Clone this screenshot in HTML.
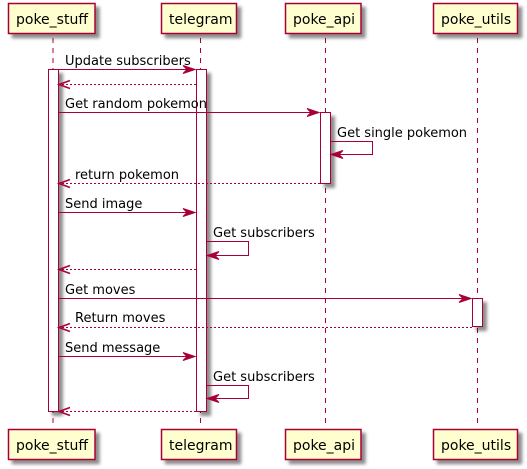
<!DOCTYPE html>
<html><head><meta charset="utf-8"><style>
html,body{margin:0;padding:0;background:#fff;}
svg{display:block;}
text{font-family:"DejaVu Sans","Liberation Sans",sans-serif;fill:#000;}
.p{font-size:14px;}
.m{font-size:13px;}
</style></head><body>
<svg width="527" height="469" viewBox="0 0 527 469" xmlns="http://www.w3.org/2000/svg">
<defs>
<filter id="sh" x="-20%" y="-20%" width="150%" height="150%">
<feGaussianBlur in="SourceAlpha" stdDeviation="1.5"/>
<feOffset dx="4" dy="4" result="o"/>
<feComponentTransfer><feFuncA type="linear" slope="0.45"/></feComponentTransfer>
<feMerge><feMergeNode/><feMergeNode in="SourceGraphic"/></feMerge>
</filter>
</defs>
<!-- lifelines -->
<g stroke="#A80036" stroke-width="1" stroke-dasharray="5,5">
<line x1="53" y1="38" x2="53" y2="425"/>
<line x1="200.5" y1="38" x2="200.5" y2="425"/>
<line x1="325.5" y1="38" x2="325.5" y2="425"/>
<line x1="477.5" y1="38" x2="477.5" y2="425"/>
</g>
<!-- participant boxes -->
<g fill="#FEFECE" stroke="#A80036" stroke-width="1.5" filter="url(#sh)">
<rect x="8.5" y="3.5" width="86.5" height="30"/>
<rect x="161.5" y="3.5" width="75" height="30"/>
<rect x="285.5" y="3.5" width="75.5" height="30"/>
<rect x="433.5" y="3.5" width="84" height="30"/>
<rect x="8.5" y="429.5" width="86.5" height="30"/>
<rect x="161.5" y="429.5" width="75" height="30"/>
<rect x="285.5" y="429.5" width="75.5" height="30"/>
<rect x="433.5" y="429.5" width="84" height="30"/>
</g>
<text class="p" x="16" y="24">poke_stuff</text>
<text class="p" x="169" y="24">telegram</text>
<text class="p" x="293" y="24">poke_api</text>
<text class="p" x="441" y="24">poke_utils</text>
<text class="p" x="16" y="450">poke_stuff</text>
<text class="p" x="169" y="450">telegram</text>
<text class="p" x="293" y="450">poke_api</text>
<text class="p" x="441" y="450">poke_utils</text>
<!-- activation bars -->
<g fill="#fff" stroke="#A80036" stroke-width="1" filter="url(#sh)">
<rect x="48.5" y="69.5" width="10" height="342"/>
<rect x="196.5" y="69.5" width="10" height="342"/>
<rect x="320.5" y="112.5" width="10" height="71"/>
<rect x="472.5" y="298.5" width="10" height="28"/>
</g>
<!-- messages -->
<g stroke="#A80036" stroke-width="1" fill="none">
<line x1="58" y1="69.5" x2="194" y2="69.5"/>
<line x1="196" y1="84.5" x2="60" y2="84.5" stroke-dasharray="2,2"/>
<line x1="58" y1="112.5" x2="318" y2="112.5"/>
<polyline points="330,141.5 372.5,141.5 372.5,154.5 332,154.5"/>
<line x1="320" y1="183.5" x2="60" y2="183.5" stroke-dasharray="2,2"/>
<line x1="58" y1="212.5" x2="194" y2="212.5"/>
<polyline points="206,241.5 248.5,241.5 248.5,255.5 208,255.5"/>
<line x1="196" y1="269.5" x2="60" y2="269.5" stroke-dasharray="2,2"/>
<line x1="58" y1="298.5" x2="470" y2="298.5"/>
<line x1="472" y1="327.5" x2="60" y2="327.5" stroke-dasharray="2,2"/>
<line x1="58" y1="356.5" x2="194" y2="356.5"/>
<polyline points="206,385.5 248.5,385.5 248.5,398.5 208,398.5"/>
<line x1="196" y1="411.5" x2="60" y2="411.5" stroke-dasharray="2,2"/>
</g>
<!-- arrowheads -->
<g fill="#A80036" stroke="#A80036" stroke-width="1">
<polygon points="195,69.5 183,65.5 187,69.5 183,73.5"/>
<polygon points="319,112.5 307,108.5 311,112.5 307,116.5"/>
<polygon points="195,212.5 183,208.5 187,212.5 183,216.5"/>
<polygon points="471,298.5 459,294.5 463,298.5 459,302.5"/>
<polygon points="195,356.5 183,352.5 187,356.5 183,360.5"/>
<polygon points="331,154.5 343,150.5 339,154.5 343,158.5"/>
<polygon points="207,255.5 219,251.5 215,255.5 219,259.5"/>
<polygon points="207,398.5 219,394.5 215,398.5 219,402.5"/>
</g>
<g stroke="#A80036" stroke-width="1.5" fill="none">
<polyline points="70,80.5 59,84.5 70,88.5"/>
<polyline points="70,179.5 59,183.5 70,187.5"/>
<polyline points="70,265.5 59,269.5 70,273.5"/>
<polyline points="70,323.5 59,327.5 70,331.5"/>
<polyline points="70,407.5 59,411.5 70,415.5"/>
</g>
<!-- labels -->
<text class="m" x="65" y="65">Update subscribers</text>
<text class="m" x="65" y="108">Get random pokemon</text>
<text class="m" x="337" y="137">Get single pokemon</text>
<text class="m" x="75" y="179">return pokemon</text>
<text class="m" x="65" y="208">Send image</text>
<text class="m" x="213" y="237">Get subscribers</text>
<text class="m" x="65" y="294">Get moves</text>
<text class="m" x="75" y="322">Return moves</text>
<text class="m" x="65" y="352">Send message</text>
<text class="m" x="213" y="381">Get subscribers</text>
</svg>
</body></html>
